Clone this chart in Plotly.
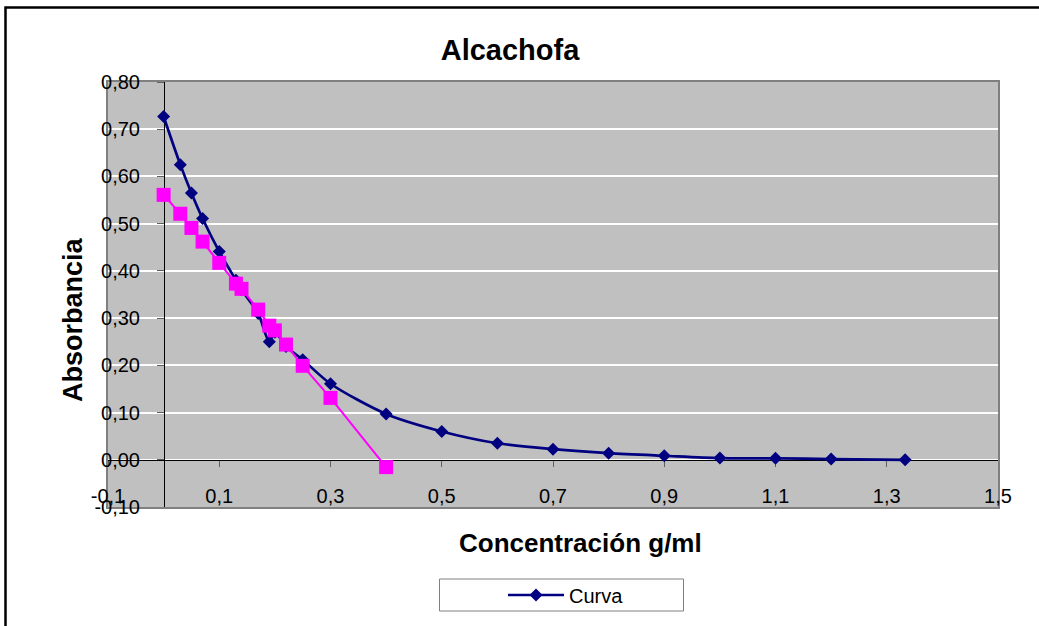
import plotly.graph_objects as go

# Concentración (g/ml) y absorbancia medidas
conc_curva = [0, 0.03, 0.05, 0.07, 0.1, 0.13, 0.14, 0.17, 0.19, 0.2, 0.22, 0.25,
              0.3, 0.4, 0.5, 0.6, 0.7, 0.8, 0.9, 1.0, 1.1, 1.2, 1.333]
abs_curva = [0.727, 0.625, 0.565, 0.511, 0.441, 0.38, 0.36, 0.31, 0.25, 0.27, 0.24, 0.212,
             0.161, 0.097, 0.060, 0.035, 0.0225, 0.014, 0.0085, 0.0036, 0.003, 0.0015, 0.0]

conc_ajuste = [0, 0.03, 0.05, 0.07, 0.1, 0.13, 0.14, 0.17, 0.19, 0.2, 0.22, 0.25, 0.3, 0.4]
abs_ajuste = [0.561, 0.521, 0.491, 0.462, 0.417, 0.373, 0.362, 0.318, 0.284, 0.274,
              0.244, 0.199, 0.131, -0.0155]

x_ticks = [-0.1, 0.1, 0.3, 0.5, 0.7, 0.9, 1.1, 1.3, 1.5]
y_ticks = [-0.1, 0.0, 0.1, 0.2, 0.3, 0.4, 0.5, 0.6, 0.7, 0.8]
x_labels = [f"{v:.1f}".replace(".", ",") for v in x_ticks]
y_labels = [f"{v:.2f}".replace(".", ",") for v in y_ticks]

X_RANGE = [-0.1, 1.5]
Y_RANGE = [-0.1, 0.8]

FONT = "Liberation Sans, Arial, sans-serif"
W, H = 1039, 626
ML, MR, MT, MB = 108, 41, 82, 119
PW, PH = W - ML - MR, H - MT - MB


def px_x(p):
    return (p - ML) / PW


def px_y(p):
    return (H - MB - p) / PH


fig = go.Figure()

fig.add_trace(go.Scatter(
    x=conc_curva, y=abs_curva, name="Curva", mode="lines+markers",
    line=dict(color="#000080", width=2.7, shape="spline", smoothing=0.8),
    marker=dict(symbol="diamond", size=10, color="#000080"),
    xaxis="x", yaxis="y",
))

fig.add_trace(go.Scatter(
    x=conc_ajuste, y=abs_ajuste, name="Ajuste", mode="lines+markers",
    line=dict(color="#FF00FF", width=2),
    marker=dict(symbol="square", size=14, color="#FF00FF"),
    showlegend=False, xaxis="x2", yaxis="y2",
))

fig.update_layout(
    width=W, height=H,
    margin=dict(l=ML, r=MR, t=MT, b=MB),
    paper_bgcolor="white",
    plot_bgcolor="#C0C0C0",
    font=dict(family=FONT, size=20, color="black"),
    title=dict(text="Alcachofa", x=510 / W, xref="container", xanchor="center",
               y=1 - 50 / H, yref="container", yanchor="middle",
               font=dict(family=FONT, size=29, weight="bold", color="black")),
    xaxis=dict(
        range=X_RANGE, tickvals=x_ticks, ticktext=x_labels, ticks="",
        showgrid=False, zeroline=False,
        showline=True, mirror=True, linecolor="#808080", linewidth=2,
        ticklabelstandoff=-30, tickfont=dict(size=20),
    ),
    yaxis=dict(
        range=Y_RANGE, tickvals=y_ticks, ticktext=y_labels, ticks="",
        showgrid=True, gridcolor="white", gridwidth=2, zeroline=False,
        showline=True, mirror=True, linecolor="#808080", linewidth=2,
        ticklabelstandoff=-38, tickfont=dict(size=20),
    ),
    xaxis2=dict(
        overlaying="x", anchor="free",
        position=(0 - Y_RANGE[0]) / (Y_RANGE[1] - Y_RANGE[0]),
        range=X_RANGE, tickvals=x_ticks, showticklabels=False,
        ticks="outside", ticklen=6, tickcolor="#606060", tickwidth=1,
        showline=True, linecolor="black", linewidth=1,
        showgrid=False, zeroline=False, layer="below traces", side="bottom",
    ),
    yaxis2=dict(
        overlaying="y", anchor="free",
        position=(0 - X_RANGE[0]) / (X_RANGE[1] - X_RANGE[0]),
        range=Y_RANGE, tickvals=y_ticks, showticklabels=False,
        ticks="outside", ticklen=7, tickcolor="#606060", tickwidth=1,
        showline=True, linecolor="black", linewidth=1,
        showgrid=False, zeroline=False, layer="below traces", side="left",
    ),
    showlegend=True,
    legend=dict(
        orientation="h", x=px_x(566), y=px_y(595), xanchor="center", yanchor="middle",
        bgcolor="rgba(0,0,0,0)", borderwidth=0, itemwidth=56,
        font=dict(family=FONT, size=20, color="black"),
    ),
    annotations=[
        dict(text="Concentración g/ml", xref="paper", yref="paper",
             x=px_x(580), y=px_y(543), xanchor="center", yanchor="middle",
             showarrow=False, font=dict(family=FONT, size=26, weight="bold")),
        dict(text="Absorbancia", xref="paper", yref="paper", textangle=-90,
             x=px_x(73), y=px_y(320), xanchor="center", yanchor="middle",
             showarrow=False, font=dict(family=FONT, size=27, weight="bold")),
    ],
    shapes=[
        # marco del área del gráfico
        dict(type="rect", xref="paper", yref="paper", layer="above",
             x0=px_x(5.5), x1=px_x(W + 10), y0=px_y(H + 10), y1=px_y(7.5),
             line=dict(color="black", width=2.5), fillcolor="rgba(0,0,0,0)"),
        # recuadro de la leyenda
        dict(type="rect", xref="paper", yref="paper", layer="below",
             x0=px_x(439.5), x1=px_x(683.5), y0=px_y(611), y1=px_y(579),
             line=dict(color="#808080", width=1), fillcolor="white"),
    ],
)

fig.write_html("out.html")
